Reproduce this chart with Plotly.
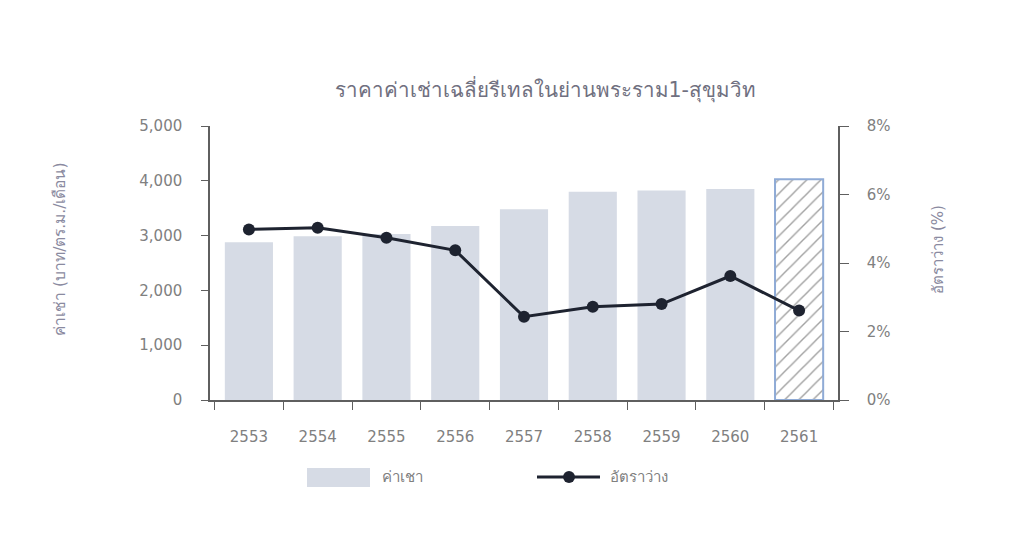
import plotly.graph_objects as go

years = ["2553", "2554", "2555", "2556", "2557", "2558", "2559", "2560", "2561"]
rent = [2880, 2990, 3030, 3175, 3480, 3800, 3825, 3850, 4030]
vacancy = [4.98, 5.03, 4.74, 4.37, 2.43, 2.72, 2.80, 3.62, 2.61]

rent_ticks = [0, 1000, 2000, 3000, 4000, 5000]
vac_ticks = [0, 2, 4, 6, 8]
vac_labels = ["0%", "2%", "4%", "6%", "8%"]

title_text = "ราคาค่าเช่าเฉลี่ยรีเทลในย่านพระราม1-สุขุมวิท"
left_title = "ค่าเช่า (บาท/ตร.ม./เดือน)"
right_title = "อัตราว่าง (%)"
rent_name = "ค่าเชา"
vacancy_name = "อัตราว่าง"

BAR = "#d6dbe5"
LINE = "#1e2330"
AXIS = "#5f5f5f"
TICK = "#808080"
TITLE = "#8a8aa0"
FONT = "DejaVu Sans, Noto Sans, sans-serif"

# last year is a forecast -> hatched bar
n = len(years)
fill = [BAR] * (n - 1) + ["white"]
outline = [BAR] * (n - 1) + ["#8fabd6"]
outline_w = [0] * (n - 1) + [2]
shapes_pat = [""] * (n - 1) + ["/"]

fig = go.Figure()

fig.add_trace(
    go.Bar(
        x=years,
        y=rent,
        name=rent_name,
        marker={
            "color": fill,
            "line": {"color": outline, "width": outline_w},
            "pattern": {
                "shape": shapes_pat,
                "fgcolor": "#cfd3db",
                "bgcolor": "white",
                "size": 10,
                "solidity": 0.14,
            },
        },
        showlegend=False,
    )
)

fig.add_trace(
    go.Scatter(
        x=years,
        y=vacancy,
        name=vacancy_name,
        mode="lines+markers",
        line={"color": LINE, "width": 3},
        marker={"color": LINE, "size": 12},
        yaxis="y2",
        showlegend=False,
    )
)

# hand-built legend under the plot
legend_shapes = [
    dict(type="rect", xref="paper", yref="paper", x0=0.1545, x1=0.2548,
         y0=-0.248, y1=-0.3175, fillcolor=BAR, line={"width": 0}),
    dict(type="line", xref="paper", yref="paper", x0=0.5207, x1=0.621,
         y0=-0.281, y1=-0.281, line={"color": LINE, "width": 3}),
    dict(type="circle", xref="paper", yref="paper", x0=0.5622, x1=0.5812,
         y0=-0.259, y1=-0.303, fillcolor=LINE, line={"color": LINE, "width": 0}),
]

# page has an 8px body margin, so the figure is 1008x540
fig.update_layout(
    width=1008,
    height=540,
    margin={"l": 202, "r": 178, "t": 118, "b": 148},
    paper_bgcolor="white",
    plot_bgcolor="white",
    font={"family": FONT, "size": 15, "color": TICK},
    title={
        "text": title_text,
        "x": 0.533,
        "xanchor": "center",
        "y": 0.848,
        "yanchor": "middle",
        "font": {"size": 20.5, "color": "#707080"},
    },
    bargap=0.3,
    shapes=legend_shapes,
    annotations=[
        dict(text=rent_name, xref="paper", yref="paper", x=0.271, y=-0.281,
             xanchor="left", yanchor="middle", showarrow=False,
             font={"size": 15, "color": TICK}),
        dict(text=vacancy_name, xref="paper", yref="paper", x=0.634, y=-0.281,
             xanchor="left", yanchor="middle", showarrow=False,
             font={"size": 15, "color": TICK}),
        dict(text=left_title, xref="paper", yref="paper", x=-0.238, y=0.55,
             xanchor="center", yanchor="middle", textangle=-90, showarrow=False,
             font={"size": 15.5, "color": TITLE}),
        dict(text=right_title, xref="paper", yref="paper", x=1.16, y=0.55,
             xanchor="center", yanchor="middle", textangle=-90, showarrow=False,
             font={"size": 15, "color": TITLE}),
    ],
    xaxis={
        "showline": True,
        "linecolor": AXIS,
        "linewidth": 1.5,
        "ticks": "outside",
        "tickson": "boundaries",
        "ticklen": 8,
        "tickcolor": AXIS,
        "ticklabelstandoff": 22,
        "showgrid": False,
    },
    yaxis={
        "range": [0, 5000],
        "tickvals": rent_ticks,
        "tickformat": ",",
        "showline": True,
        "linecolor": AXIS,
        "linewidth": 1.5,
        "ticks": "outside",
        "ticklen": 7,
        "tickcolor": AXIS,
        "ticklabelstandoff": 16,
        "showgrid": False,
        "zeroline": False,
    },
    yaxis2={
        "range": [0, 8],
        "tickvals": vac_ticks,
        "ticktext": vac_labels,
        "overlaying": "y",
        "side": "right",
        "showline": True,
        "linecolor": AXIS,
        "linewidth": 1.5,
        "ticks": "outside",
        "ticklen": 9,
        "tickcolor": AXIS,
        "ticklabelstandoff": 15,
        "showgrid": False,
        "zeroline": False,
    },
)

fig.write_html("out.html")
